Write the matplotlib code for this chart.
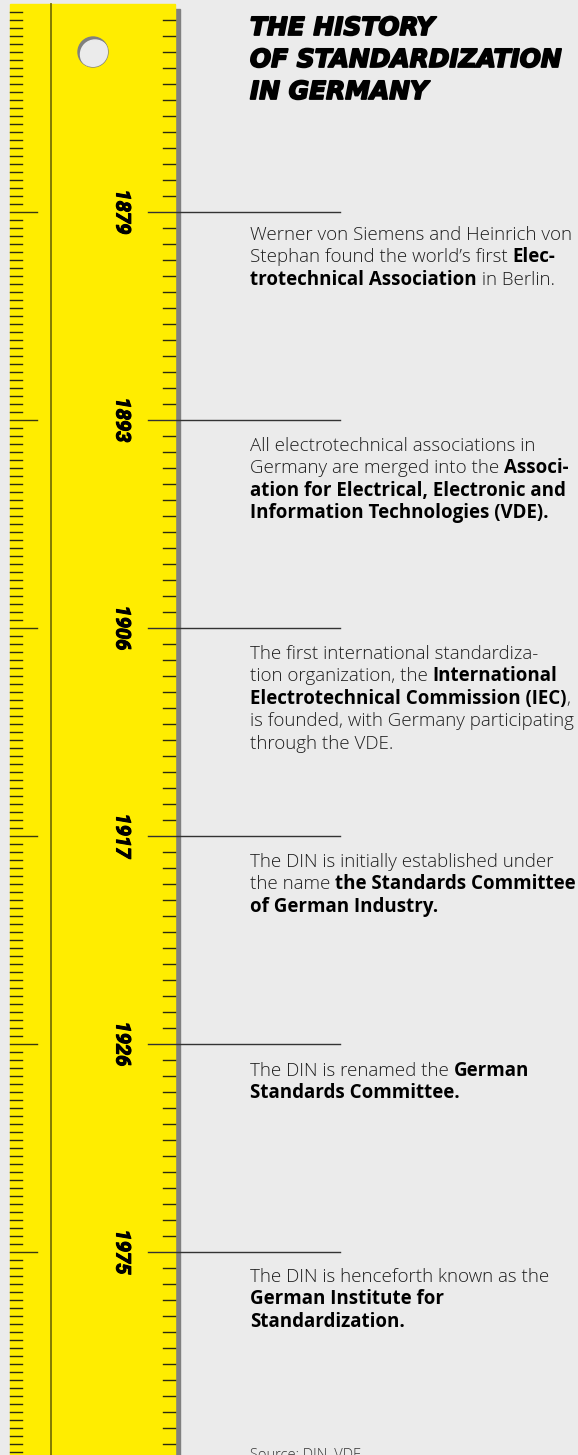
import matplotlib
matplotlib.use('Agg')
import matplotlib.pyplot as plt
import matplotlib.patheffects as pe
from matplotlib.patches import Rectangle, Circle

# --- data ---
years = ["1879", "1893", "1906", "1917", "1926", "1975"]
# each event: list of lines, each line a list of (text, bold) segments
events = [
    [[("Werner von Siemens and Heinrich von", False)],
     [("Stephan found the world\u2019s first ", False), ("Elec-", True)],
     [("trotechnical Association", True), (" in Berlin.", False)]],
    [[("All electrotechnical associations in", False)],
     [("Germany are merged into the ", False), ("Associ-", True)],
     [("ation for Electrical, Electronic and", True)],
     [("Information Technologies (VDE).", True)]],
    [[("The first international standardiza-", False)],
     [("tion organization, the ", False), ("International", True)],
     [("Electrotechnical Commission (IEC)", True), (",", False)],
     [("is founded, with Germany participating", False)],
     [("through the VDE.", False)]],
    [[("The DIN is initially established under", False)],
     [("the name ", False), ("the Standards Committee", True)],
     [("of German Industry.", True)]],
    [[("The DIN is renamed the ", False), ("German", True)],
     [("Standards Committee.", True)]],
    [[("The DIN is henceforth known as the", False)],
     [("German Institute for", True)],
     [("Standardization.", True)]],
]
title_lines = ["THE HISTORY", "OF STANDARDIZATION", "IN GERMANY"]
source = "Source: DIN, VDE"

W, H = 578, 1455
BG = "#ebebeb"
YELLOW = "#ffed00"
BODY_FONT = "Open Sans"

fig = plt.figure(figsize=(W / 100, H / 100), dpi=100, facecolor=BG)
ax = fig.add_axes([0, 0, 1, 1])
ax.set_xlim(0, W)
ax.set_ylim(H, 0)
ax.axis("off")
ax.set_facecolor(BG)

# ruler body + shadow
ax.add_patch(Rectangle((175, 9), 5, H, color="#808080", zorder=1))
ax.add_patch(Rectangle((10, 4), 165, H, color=YELLOW, zorder=2))
ax.plot([51, 51], [4, H], color="#7a7200", lw=1.3, zorder=3)

# hole
outer = Circle((93, 52), 15, color="#808080", zorder=4)
ax.add_patch(outer)
inner = Circle((95, 54.5), 14.5, color=BG, zorder=5)
ax.add_patch(inner)
inner.set_clip_path(outer)

line_y = [212 + 208 * i for i in range(len(years))]

# left ticks
y = 12
while y < H:
    if any(abs(y - ly) < 1 for ly in line_y):
        ax.plot([10, 37], [y, y], color="#3a3710", lw=1, zorder=3)
    else:
        ax.plot([10, 22], [y, y], color="#2a2a10", lw=1, zorder=3)
    y += 8

# right ticks
y = 20
while y < H:
    if not any(abs(y - ly) < 1 for ly in line_y):
        ax.plot([163, 175], [y, y], color="#2a2a10", lw=1, zorder=3)
    y += 16

# title
heavy = [pe.withStroke(linewidth=1.3, foreground="#000000")]
for i, t in enumerate(title_lines):
    ax.text(250, 35 + 32 * i, t, fontsize=17.9, family="DejaVu Sans",
            fontweight="bold", style="italic", color="#000000",
            va="baseline", ha="left", path_effects=heavy)

fig.canvas.draw()
renderer = fig.canvas.get_renderer()


def rich_line(x, y, segs, size):
    for txt, bold in segs:
        t = ax.text(x, y, txt, fontsize=size, family=BODY_FONT,
                    fontweight="bold" if bold else "light",
                    color="#000000" if bold else "#1e1e1e",
                    va="baseline", ha="left", zorder=6)
        bb = t.get_window_extent(renderer=renderer)
        x += bb.width


offsets = [28, 31, 31, 31, 32, 30]
for i, (yr, ev) in enumerate(zip(years, events)):
    ly = line_y[i]
    ax.plot([148, 340], [ly, ly], color="#333333", lw=1, zorder=6)
    ax.text(122, ly, yr, rotation=-90, fontsize=14.5, family="Roboto",
            fontweight="bold", style="italic", ha="center", va="center",
            color="#000000", zorder=6,
            path_effects=[pe.withStroke(linewidth=0.8, foreground="#000000")])
    by = ly + offsets[i]
    for segs in ev:
        rich_line(250, by, segs, 13.5)
        by += 22.4

ax.text(250, 1448, source, fontsize=10.5, family=BODY_FONT,
        fontweight="light", color="#333333", va="top", ha="left")

fig.savefig("out.png", dpi=100, facecolor=BG)
